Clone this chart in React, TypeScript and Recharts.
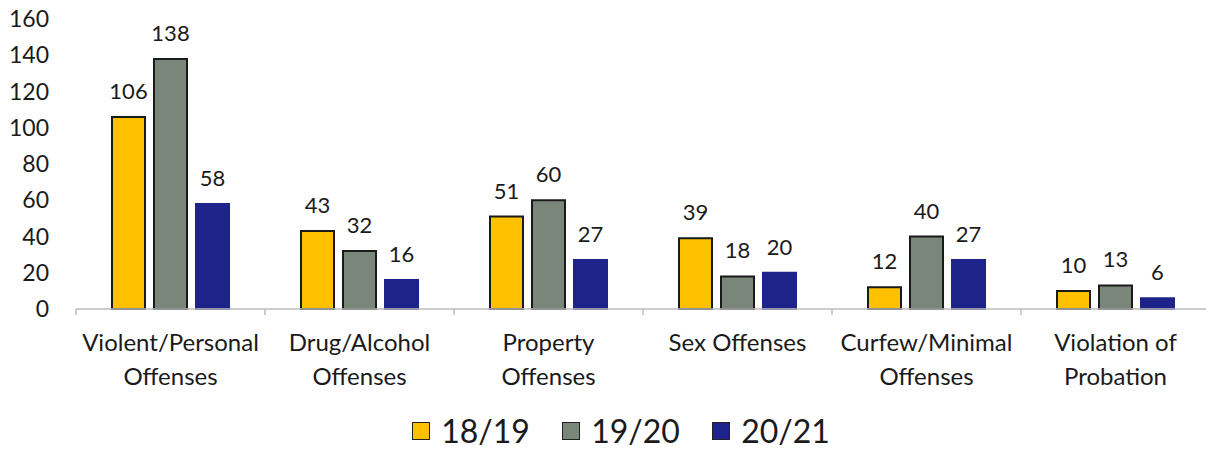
import React from "react";
import { BarChart, Bar, XAxis, YAxis, LabelList, Legend } from "recharts";

const categories = [
  "Violent/Personal Offenses",
  "Drug/Alcohol Offenses",
  "Property Offenses",
  "Sex Offenses",
  "Curfew/Minimal Offenses",
  "Violation of Probation",
];
const categoryLines: string[][] = [
  ["Violent/Personal", "Offenses"],
  ["Drug/Alcohol", "Offenses"],
  ["Property", "Offenses"],
  ["Sex Offenses"],
  ["Curfew/Minimal", "Offenses"],
  ["Violation of", "Probation"],
];
const s1819 = [106, 43, 51, 39, 12, 10];
const s1920 = [138, 32, 60, 18, 40, 13];
const s2021 = [58, 16, 27, 20, 27, 6];
const yTicks = [0, 20, 40, 60, 80, 100, 120, 140, 160];

const seriesDefs = [
  { key: "y1819", name: "18/19", color: "#FFC000", stroke: "#1a1a1a" },
  { key: "y1920", name: "19/20", color: "#7B867B", stroke: "#1a1a1a" },
  { key: "y2021", name: "20/21", color: "#1D2389", stroke: "#1D2389" },
];

const data = categories.map((c, i) => ({
  cat: c,
  y1819: s1819[i],
  y1920: s1920[i],
  y2021: s2021[i],
}));

const FONT = "Lato, 'Open Sans', sans-serif";
const TEXT = "#1a1a1a";
const AXIS = "#bdbdbd";

const CatTick = (props: any) => {
  const { x, y, index, payload } = props;
  const lines = categoryLines[index] || [String(payload?.value)];
  const half = payload?.offset ?? 0;
  return (
    <g>
      <line x1={x - half} x2={x - half} y1={y} y2={y + 6} stroke={AXIS} strokeWidth={1.5} />
      {index === categories.length - 1 && (
        <line x1={x + half} x2={x + half} y1={y} y2={y + 6} stroke={AXIS} strokeWidth={1.5} />
      )}
      {lines.map((l, i) => (
        <text
          key={i}
          x={x}
          y={y + 42 + i * 34}
          textAnchor="middle"
          fontFamily={FONT}
          fontSize={24}
          fill={TEXT}
        >
          {l}
        </text>
      ))}
    </g>
  );
};

const LegendContent = () => (
  <div
    style={{
      height: 61,
      boxSizing: "border-box",
      paddingTop: 25,
      paddingLeft: 32,
      display: "flex",
      justifyContent: "center",
      alignItems: "flex-start",
      fontFamily: FONT,
    }}
  >
    {seriesDefs.map((s, i) => (
      <div
        key={s.key}
        style={{
          display: "flex",
          alignItems: "center",
          height: 24,
          width: i < seriesDefs.length - 1 ? 150 : undefined,
        }}
      >
        <div
          style={{
            width: 18,
            height: 18,
            background: s.color,
            border: "1.5px solid #222",
            boxSizing: "border-box",
            marginRight: 11,
          }}
        />
        <span style={{ fontSize: 32, lineHeight: "24px", color: TEXT }}>{s.name}</span>
      </div>
    ))}
  </div>
);

export default function App() {
  return (
    <div style={{ width: 1206, height: 455, overflow: "hidden", background: "#fff" }}>
      <style>{"body{margin:0;}"}</style>
      <BarChart
        width={1210}
        height={455}
        data={data}
        margin={{ top: 19, right: 0, left: 0, bottom: 0 }}
        barSize={33}
        barGap={9}
      >
        <XAxis
          dataKey="cat"
          height={85}
          axisLine={{ stroke: AXIS, strokeWidth: 1.5 }}
          tickLine={false}
          tickSize={0}
          tickMargin={0}
          interval={0}
          tick={<CatTick />}
        />
        <YAxis
          width={76}
          domain={[0, 160]}
          ticks={yTicks}
          axisLine={false}
          tickLine={false}
          tickSize={0}
          tickMargin={27}
          tick={{ fontFamily: FONT, fontSize: 23, fill: TEXT }}
          interval={0}
        />
        <Legend verticalAlign="bottom" content={<LegendContent />} />
        {seriesDefs.map((s) => (
          <Bar
            key={s.key}
            dataKey={s.key}
            name={s.name}
            fill={s.color}
            stroke={s.stroke}
            strokeWidth={2}
            isAnimationActive={false}
          >
            <LabelList
              dataKey={s.key}
              position="top"
              offset={18}
              style={{ fontFamily: FONT, fontSize: 22, fill: TEXT }}
            />
          </Bar>
        ))}
      </BarChart>
    </div>
  );
}
